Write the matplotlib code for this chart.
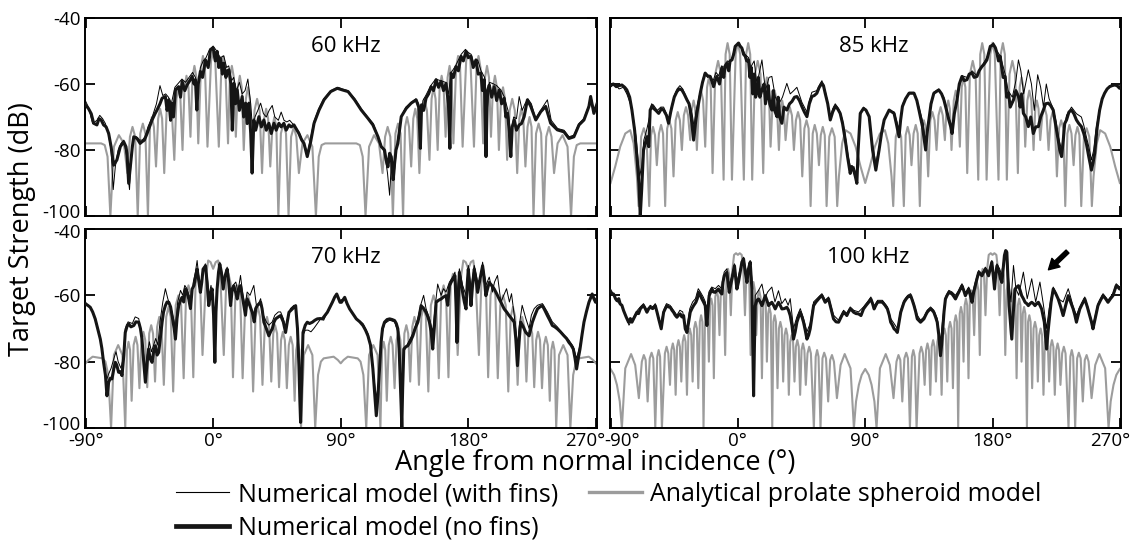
import numpy as np
import matplotlib
matplotlib.use("Agg")
import matplotlib.pyplot as plt
import matplotlib.transforms as mtransforms
from matplotlib.lines import Line2D

plt.rcParams['font.family'] = ['Open Sans', 'DejaVu Sans']

# ---------------- data: (angle deg, TS dB) ----------------
# Numerical model (no fins) -- thick black
nofins_60 = [(-90.2,-66.3),(-88,-67.4),(-86,-69),(-84.3,-71.9),(-82,-72.4),(-80.5,-70.5),(-79,-70.9),(-77.3,-72.4),(-75.5,-73),(-73.7,-75),(-72,-79),(-70.2,-84.6),(-67.9,-83),(-65.5,-79),(-63.1,-77.5),(-61.5,-79),(-60.8,-81),(-59.6,-90.1),(-58.4,-85),(-57,-79),(-56,-76),(-53.7,-76.5),(-51.5,-78),(-50.2,-77.5),(-48.5,-77),(-46.6,-75),(-43.1,-70.9),(-41,-69),(-39.6,-67.9),(-37.5,-66),(-36,-64.3),(-33.7,-63.8),(-32.5,-68),(-31.3,-64.8),(-30,-71),(-29,-65.8),(-28,-70),(-26.6,-61.8),(-24.3,-60.8),(-23,-64),(-21.9,-59.2),(-20,-62),(-18.4,-60.3),(-16.5,-59),(-14.8,-57.7),(-13.5,-60),(-12.5,-58.7),(-11.5,-67.9),(-10.5,-60),(-9,-56.2),(-7.5,-58),(-5.4,-52.7),(-3.5,-55),(-1.9,-49.6),(0,-49.1),(1.5,-53),(2.8,-50.1),(4,-55),(5.2,-52.2),(6.5,-57),(7.5,-53.7),(9,-58),(10,-56),(11.1,-55.7),(12.5,-60),(13.5,-74),(14.6,-59.8),(15.8,-66),(17,-61.8),(18.5,-68),(20.5,-63.8),(21.5,-70),(22.9,-65.8),(24,-72),(25.2,-65.8),(26.5,-75),(27.5,-87),(28.7,-70.9),(30,-74),(32.3,-69.9),(34,-73),(35.8,-70.9),(37.5,-74),(39.3,-71.9),(41,-75),(42.9,-71.9),(44.5,-74),(46.4,-71.9),(48,-73),(49.9,-71.9),(51.5,-74),(53.5,-72.4),(55,-73),(57,-72.4),(60.5,-75),(62.5,-77),(64.1,-78),(66.4,-82),(68.8,-77.5),(71.2,-71.9),(74.7,-67.9),(78.2,-64.8),(82.9,-62.3),(87.6,-61.3),(91.2,-61.8),(95.2,-62.3),(99.8,-64.8),(104.5,-67.9),(109.2,-70.4),(112.7,-72.4),(116.3,-76),(118.6,-79),(120.9,-80),(122,-83),(123.3,-85.1),(124.5,-81),(125.6,-82),(127,-89),(128,-84.1),(129,-80),(130.3,-78),(132.7,-69.9),(136.2,-67.4),(139.7,-65.8),(143.2,-64.8),(145,-67),(146.2,-79.5),(147,-66.3),(148.5,-68),(150.2,-64.3),(152,-63),(153.8,-60.8),(155.5,-62),(157.3,-58.7),(159,-61),(160.8,-59.2),(162.5,-62),(164.3,-59.8),(166,-66),(167,-79.5),(167.8,-56.7),(169.5,-58),(171.3,-54.7),(173,-56),(174.9,-51.6),(176.5,-53),(178.4,-50.1),(180,-52),(181.9,-51.6),(183.5,-55),(185.4,-52.7),(187,-57),(188.9,-56.7),(190,-62),(191.3,-58.7),(192.5,-82),(193.5,-62),(194.8,-60.3),(196.5,-64),(198.3,-60.8),(200,-65),(201.8,-61.8),(203.5,-66),(205.3,-64.3),(206.5,-70),(207.7,-68.9),(209,-75),(210,-82),(211,-73),(212.4,-70.9),(214,-74),(215.9,-72.4),(217.5,-72),(219.4,-69.9),(221.7,-64.8),(224.1,-66.8),(227.6,-70.9),(231.1,-68.4),(234.6,-66.8),(238.1,-71.9),(242.8,-73.9),(247.5,-74.5),(251,-76.5),(254.5,-76),(258.1,-72.4),(261.6,-70.9),(265.1,-66.8),(266.3,-63.8),(268.6,-68.9),(270.8,-66)]

nofins_85 = [(-90.2,-60.3),(-88,-60),(-86,-60.8),(-84,-60.5),(-82,-60.3),(-80,-61),(-78.5,-61.8),(-76.5,-64),(-74.9,-67.9),(-73,-74),(-71.4,-82),(-70,-90),(-69,-100),(-68,-92),(-66.7,-80),(-65.5,-78),(-64.3,-76),(-63,-79),(-62,-67.9),(-60.5,-66.5),(-59.6,-67.4),(-58,-68),(-56,-68.9),(-54,-67.5),(-52.5,-67.9),(-50.5,-69.5),(-49,-71.9),(-47.5,-68.5),(-46.6,-66.8),(-45,-64),(-43.1,-62.3),(-41.5,-61.5),(-39.6,-61.8),(-38,-63),(-36,-64.8),(-34.5,-66),(-33.7,-67.9),(-32.5,-72),(-31.3,-77),(-30,-72),(-29,-68.9),(-27.5,-65),(-26.6,-62.8),(-25,-59.5),(-23.1,-56.7),(-21.5,-57.5),(-19.6,-57.7),(-18.5,-59),(-17.2,-60.8),(-16,-59),(-14.8,-57.7),(-13,-60),(-11.3,-55.2),(-10,-58),(-9,-54.5),(-7.8,-53.7),(-6.5,-56),(-5.5,-53),(-4.2,-52.7),(-3,-51),(-1.9,-48.6),(0.5,-47.6),(1.5,-48.5),(2.8,-49.1),(4,-51),(5.2,-51.6),(6.2,-53),(7.5,-52.7),(8.5,-58),(9.5,-55),(10.5,-63),(11.5,-57),(12.5,-64),(13.4,-62.8),(14.5,-58),(15.5,-64),(17,-61.8),(18.5,-60),(19.5,-66),(20.5,-63.8),(21.5,-60.5),(22.5,-66),(24,-67.9),(25,-62),(26,-68),(27.6,-69.9),(28.5,-64),(29.5,-70),(31.1,-71.9),(32.5,-67),(34.6,-67.9),(36.5,-66),(38.2,-65.3),(40,-64),(41.7,-63.8),(43.5,-65),(45.2,-66.8),(47,-68.5),(48.8,-69.9),(50.5,-66),(52.3,-63.8),(54,-63.5),(55.8,-62.8),(57.5,-61),(59.4,-59.8),(60.5,-60.5),(61.7,-62.8),(63.5,-66),(65.3,-70.9),(67,-68.5),(68.8,-66.8),(70.5,-67.5),(72.3,-68.9),(74,-72),(75.9,-77),(77.5,-82),(79.4,-87.1),(80.5,-85),(81.8,-86.1),(83,-88),(84.1,-90.1),(85,-80),(86.5,-68.9),(88.8,-67.4),(90.5,-67.9),(92.8,-69.9),(95.2,-80),(97.5,-86.1),(99.8,-80),(101.5,-75),(103.4,-70.9),(106.9,-67.9),(110.4,-68.9),(112,-72),(113.9,-76),(115,-71),(116.3,-66.8),(118.5,-64.5),(121,-62.8),(124.5,-62.8),(126.5,-65),(128,-67.9),(130.5,-73),(132.7,-80),(134,-74),(135,-70.9),(136.5,-66),(138.5,-62.8),(142,-61.8),(144,-63),(145.6,-64.8),(147.5,-68),(149.1,-70.9),(150.5,-73),(151.4,-75),(153,-69),(154.9,-64.8),(156.5,-60),(158.4,-57.7),(160,-59),(161.9,-58.7),(163.5,-57),(165.5,-56.7),(167,-58),(169,-57.7),(170.5,-56),(172.5,-54.7),(174,-54),(176,-52.7),(177,-51),(178.4,-48.6),(180.7,-48.1),(182,-49),(183.1,-50.6),(184.2,-53),(185.4,-51.6),(186.5,-55),(187.5,-58),(188.9,-57.7),(190,-64),(191.3,-62.8),(192.5,-67),(194.8,-64.8),(196.5,-62),(198.3,-63.8),(199.5,-67),(200.5,-63),(201.8,-68.9),(203.5,-70),(205.3,-72.9),(207,-70),(208.8,-75),(210.5,-73),(212.4,-72.9),(214,-70),(215.9,-67.9),(217.5,-66),(219.4,-65.8),(221,-66.5),(222.9,-67.9),(224.5,-72),(226.4,-77),(227.5,-80),(228.8,-82),(230,-77),(231,-72),(232.3,-70.9),(234,-68.5),(235.8,-67.9),(237.5,-69),(239.3,-70.9),(241,-72),(242.8,-72.9),(244.5,-75),(246.3,-78),(248,-82),(249.9,-86.1),(251,-84),(252.2,-81),(254,-73),(255.7,-67.9),(257.5,-64.5),(259.2,-62.8),(261,-61.5),(262.8,-60.8),(264.5,-60.5),(266.3,-60.3),(268,-60.5),(269.8,-61.3),(270.8,-60.5)]

nofins_70 = [(-90.2,-62.6),(-88.5,-63),(-86.7,-63.6),(-85,-65),(-83.2,-67.1),(-81.5,-70),(-79.6,-73.2),(-78.5,-76),(-77.3,-80.2),(-76,-84),(-74.9,-90.3),(-73.7,-86.2),(-72.5,-85),(-71.4,-85.2),(-70,-82),(-69,-80.2),(-68,-81),(-66.7,-83.2),(-65.5,-83),(-64.3,-84.2),(-63,-78),(-62,-71.2),(-60.5,-69),(-59.6,-68.6),(-58,-69.5),(-56,-69.1),(-54.5,-68),(-52.5,-68.1),(-51.3,-70),(-50.2,-73.2),(-49,-80),(-47.8,-86.2),(-46.5,-80),(-45.5,-76.2),(-44.5,-79),(-43.1,-80.2),(-42,-77),(-40.8,-75.2),(-39.5,-78),(-38.4,-77.2),(-37,-72),(-36,-68.1),(-35,-65),(-33.7,-63.1),(-32.5,-62),(-31.3,-62.1),(-30,-63.5),(-29,-66.1),(-27.5,-70),(-26.6,-73.2),(-25.5,-67),(-24.3,-63.1),(-23,-61.5),(-21.9,-60.6),(-20.8,-62),(-19.6,-58.1),(-18.5,-59),(-17.2,-61.1),(-16,-64),(-14.8,-58.1),(-13.5,-57),(-12.5,-54.6),(-11.3,-52.1),(-10,-56),(-9,-59.1),(-8,-56),(-7.1,-52.1),(-5.4,-51.1),(-4.3,-56),(-3.1,-63.1),(-2,-60),(-0.7,-58.1),(0.3,-66),(1.2,-80.2),(2,-65),(2.8,-58.1),(3.8,-53),(4.7,-50.6),(5.8,-53),(7.1,-58.1),(8.5,-54),(9.9,-52.1),(11,-56),(12.3,-63.1),(13.5,-58),(14.6,-57.1),(15.8,-59),(17,-61.1),(18.2,-58),(19.3,-57.1),(20.5,-60),(21.7,-63.1),(22.8,-66),(24,-61.1),(25.8,-63),(27.6,-65.1),(29,-68),(30,-64),(31.1,-63.1),(33.5,-62.1),(34.5,-64),(35.8,-68.1),(37.5,-70),(39.3,-72.2),(40.5,-71),(41.7,-70.1),(43,-68),(44.1,-67.1),(46,-66.5),(47.6,-66.1),(49.5,-68),(51.1,-71.2),(52.3,-68),(53.5,-65.1),(55.8,-64.1),(58.2,-63.1),(59.5,-70),(60.5,-81.2),(61.2,-92),(61.7,-98.3),(62.3,-88),(63.4,-71.2),(65,-69),(66.4,-68.1),(68,-68.5),(70,-68.1),(71.8,-67.5),(73.5,-67.1),(75.5,-67),(77,-67.1),(79,-66),(80.6,-65.1),(82.5,-63.5),(84.1,-62.1),(85.8,-60.5),(87.2,-59.6),(88.5,-61),(89.5,-62.1),(90.5,-62.1),(92.8,-60.6),(94.5,-62.5),(96.3,-64.1),(98.5,-65.5),(101,-67.1),(103.5,-68),(105.7,-69.1),(107.5,-70.5),(109.2,-72.2),(111,-75),(112.7,-82.2),(114,-90),(115.1,-96.3),(116.3,-90),(117.4,-82.2),(118.5,-74),(119.5,-70),(120.9,-68.1),(122.7,-67.3),(124.5,-67.1),(126.3,-67.3),(128,-67.6),(129.2,-68.5),(130.3,-70.1),(131.2,-76),(132,-85.2),(132.6,-93),(133.1,-99.8),(133.7,-88),(134.5,-76.2),(136,-75.5),(137.3,-75.2),(139,-74),(140.9,-72.2),(142.5,-70),(144.4,-68.1),(145.5,-66),(146.7,-63.1),(148.5,-64),(150.2,-65.1),(151.5,-66.5),(152.6,-68.1),(153.8,-71),(154.9,-76.2),(156,-70),(157.3,-62.1),(159,-61.5),(160.8,-61.1),(162.5,-60.5),(164.3,-60.1),(165.5,-63),(166.7,-57.1),(168,-56),(169,-55.1),(170.6,-54.1),(171.3,-62),(172,-74.2),(172.8,-63),(173.7,-53.1),(174.8,-56),(176,-59.1),(177.2,-62),(178.4,-64.1),(179.2,-57),(180,-52.1),(181,-57),(181.9,-63.1),(183,-57),(184.2,-52.1),(185.4,-55),(186.6,-59.1),(188.3,-55),(190.1,-51.1),(191.3,-55),(192.4,-60.1),(193.6,-58),(194.8,-56.1),(196.5,-57),(198.3,-58.1),(200,-59.5),(201.8,-61.1),(203.5,-62.5),(205.3,-64.1),(207,-65),(208.8,-66.1),(210.5,-67),(212.4,-68.1),(213.5,-73),(214.7,-81.2),(215.8,-74),(217,-68.1),(218.8,-69.5),(220.6,-71.2),(222.9,-72.2),(225.2,-68.1),(227,-66),(228.8,-64.1),(230.5,-63.5),(232.3,-63.1),(234,-64.5),(235.8,-66.1),(237.5,-67.5),(239.3,-69.1),(241,-69.5),(242.8,-70.1),(245,-71),(247.5,-72.2),(249.3,-73),(251,-74.2),(252.5,-75),(254.1,-76.2),(255.3,-79),(256.4,-82.2),(257.6,-79),(258.8,-76.2),(260.2,-72),(261.6,-68.1),(263.3,-65),(265.1,-62.1),(267.4,-59.6),(268.6,-61),(269.8,-62.1),(270.8,-61)]

nofins_100 = [(-90.2,-58.6),(-89,-59.5),(-87.9,-59.6),(-86.5,-61),(-85.5,-61.6),(-84.2,-61),(-83.2,-62.6),(-82,-63),(-80.8,-64.6),(-79,-66.5),(-77.3,-68.1),(-76,-67),(-74.9,-68.1),(-73,-66.5),(-71.4,-65.1),(-70.2,-65.5),(-69,-64.1),(-67.8,-63.5),(-66.7,-63.1),(-65.5,-64),(-64.3,-65.1),(-63,-64),(-62,-63.6),(-60.2,-64),(-58.4,-63.1),(-57.2,-65),(-56,-67.1),(-54.2,-70.1),(-52.5,-65.1),(-51.3,-64),(-50.2,-63.1),(-49,-63.5),(-47.8,-63.6),(-46.6,-64.5),(-45.5,-65.1),(-44.3,-66),(-43.1,-66.6),(-42,-66),(-40.8,-65.6),(-39.6,-66.5),(-38.4,-66.1),(-37.2,-70.1),(-36,-71.2),(-34.8,-68),(-33.7,-65.1),(-32.5,-64),(-31.3,-63.1),(-29.7,-62.1),(-28.7,-61),(-27.8,-59.1),(-26.6,-60),(-25.4,-61.1),(-24.3,-62),(-23.1,-63.1),(-22.5,-66),(-21.9,-69.1),(-21.1,-64),(-20.3,-60.1),(-18.4,-58.1),(-17.2,-59),(-16,-59.1),(-14.8,-58.5),(-13.7,-58.1),(-12.5,-59),(-11.3,-59.6),(-10.5,-56),(-9.7,-54.1),(-7.8,-53.1),(-7,-56),(-6.1,-59.1),(-5.2,-57),(-4.2,-55.1),(-3.3,-53),(-2.4,-51.1),(-1.5,-55),(-0.7,-58.1),(0.4,-56),(1.6,-53.1),(2.8,-50),(4,-49),(5.2,-53),(6.4,-56.1),(7.5,-52),(8.7,-50),(9.3,-54),(9.9,-58.1),(10.5,-75),(11.1,-90.3),(11.7,-75),(12.3,-63.1),(13.4,-61.5),(14.6,-61.1),(15.8,-62),(17,-63.1),(18.2,-61.5),(19.3,-60.1),(20.5,-61.5),(21.7,-63.1),(22.9,-62.5),(24,-62.1),(25.2,-63),(26.4,-64.1),(27.6,-63),(28.7,-62.1),(29.9,-63),(31.1,-64.1),(32.8,-64),(34.6,-63.6),(35.8,-64.5),(37,-66.1),(38.2,-69),(39.3,-73.2),(40.5,-71),(41.7,-68.1),(42.9,-66.5),(44.1,-65.1),(45.3,-66.5),(46.4,-68.1),(47.6,-70.5),(48.8,-73.2),(50,-72),(51.1,-70.1),(52.3,-66.5),(53.5,-63.1),(55.2,-62),(57,-61.1),(58.2,-60.5),(59.4,-60.1),(60.5,-61),(61.7,-62.1),(62.9,-61.5),(64.1,-61.1),(65.8,-64),(67.6,-67.1),(69.4,-68),(71.2,-68.1),(73,-66.5),(74.7,-65.1),(75.9,-65.5),(77,-66.1),(78.2,-65),(79.4,-64.1),(80.6,-64.5),(81.8,-65.1),(83.5,-65.5),(85.3,-65.6),(87,-66.1),(88.8,-64.1),(90.5,-63.1),(92.4,-62.1),(94,-61.1),(95.2,-62.5),(96.3,-64.1),(97.5,-63),(98.7,-62.1),(100.5,-62),(102.2,-62.1),(104,-63),(105.7,-64.1),(107,-66),(108,-68.1),(109.2,-69),(110.4,-70.1),(111.5,-70.5),(112.7,-71.2),(114,-68),(115.1,-65.1),(116.3,-63.5),(117.4,-62.1),(118.6,-61.3),(119.8,-60.6),(121,-60.3),(122.1,-60.1),(123.3,-61.5),(124.5,-63.1),(125.7,-65),(126.8,-67.1),(128,-67.6),(129.1,-68.1),(130.3,-67.6),(131.5,-67.1),(132.7,-66),(133.8,-65.1),(135,-64.5),(136.2,-64.1),(137.3,-64.5),(138.5,-65.1),(139.7,-66.5),(140.9,-68.1),(142,-72),(143.2,-78.2),(144,-75),(144.8,-70.1),(145.7,-65),(146.7,-61.1),(147.9,-60),(149.1,-59.1),(150.3,-59.3),(151.4,-59.6),(152.6,-60.3),(153.8,-61.1),(155,-60),(156.1,-59.1),(157.3,-58),(158.4,-57.1),(159.6,-58.5),(160.8,-60.1),(162,-59),(163.1,-58.1),(164.3,-60),(165.5,-62.1),(166.7,-59),(167.8,-57.1),(169,-55),(170.2,-53.1),(171.3,-53.5),(172.5,-54.1),(173.7,-53),(174.9,-52.1),(176,-53),(177.2,-54.1),(178.4,-52),(179.5,-50),(180.5,-54),(181.4,-58.1),(182.2,-54),(183.1,-51.1),(184.7,-53.1),(185.6,-55),(186.6,-56.1),(187.5,-52),(188.4,-48),(189.3,-46.5),(190.1,-47),(190.9,-55),(191.7,-63.1),(192.6,-68),(193.6,-73.2),(194.7,-65),(195.9,-58.1),(197.1,-57.5),(198.3,-57.1),(199.5,-58.5),(200.6,-60.1),(201.8,-61),(203,-62.1),(204.2,-62.5),(205.3,-63.1),(206.5,-62.5),(207.7,-62.1),(208.9,-62.5),(210,-63.1),(211.2,-62.5),(212.4,-62.1),(213.5,-63),(214.7,-64.1),(215.6,-66),(216.6,-68.1),(217.4,-72),(218.2,-76.2),(219,-72),(219.9,-68.1),(221.4,-62),(222.9,-58.1),(224.7,-59.5),(226.4,-61.1),(228.2,-63.5),(229.9,-66.1),(231.7,-63),(233.5,-60.1),(235.2,-62),(237,-64.1),(238.2,-66),(239.3,-68.1),(240.5,-66),(241.7,-64.1),(243.5,-62.5),(245.2,-61.1),(247,-63.5),(248.7,-66.1),(249.9,-68),(251,-70.1),(252.8,-66.5),(254.5,-63.1),(256.3,-61.5),(258.1,-60.1),(259.9,-61),(261.6,-62.1),(263.4,-61),(265.1,-60.1),(266.3,-58.5),(267.4,-57.1),(268.6,-57.5),(269.8,-58.1),(270.8,-57.5)]

# Numerical model (with fins) -- thin black
fins_60 = [(-90.2,-65),(-88,-67),(-85,-72),(-82,-71),(-80,-69.5),(-78,-70.5),(-76,-72),(-74,-75),(-72,-80),(-70.5,-92),(-69,-85),(-67,-80),(-65,-78),(-63,-77),(-61,-82),(-60,-88),(-59,-92),(-58,-84),(-56,-76),(-54,-76),(-52,-77),(-50,-77),(-48,-76),(-46,-73),(-43,-70),(-40,-66),(-37.5,-60.5),(-35.5,-63.5),(-33.5,-63),(-31.5,-64),(-29.5,-66),(-27,-61),(-25,-60),(-22,-58.5),(-19.5,-59.5),(-17,-58),(-14.5,-56.5),(-12.5,-58),(-11,-62),(-9,-55),(-7,-53),(-5,-52),(-2.5,-49.5),(0,-48.5),(2.5,-50),(5,-52),(7.5,-51.5),(9.5,-55),(11,-54.5),(13,-59),(14.5,-58),(16.5,-62),(18.5,-59.5),(20.5,-63),(22.5,-62),(24.5,-58.5),(26.5,-66),(28,-75),(29.5,-70),(31.5,-68),(33.5,-65.8),(35.5,-69),(37.5,-70),(39.5,-68),(41.7,-66.5),(43.5,-70),(46,-71),(48,-68.5),(50,-71),(52,-71.5),(54,-71),(56,-72),(58,-73),(60.5,-74.5),(63,-77),(65,-79),(66.5,-81),(68.5,-77),(71,-71.5),(74.5,-67.5),(78,-64.5),(83,-62),(88,-61),(91,-61.5),(95,-62),(100,-64.5),(104.5,-67.5),(109,-70),(113,-72),(116,-75.5),(119,-79),(121,-81),(123,-87),(124.5,-93.7),(126,-82),(128,-86),(130,-77),(133,-69.5),(136,-67),(140,-65.5),(143,-64.5),(145,-66),(146.5,-72),(148,-65),(150,-63.5),(153.5,-60.5),(157,-58.5),(160.5,-59),(164,-59.5),(166,-63),(168,-56.5),(171,-54.5),(175,-51),(178,-49.5),(180,-50.5),(182,-51),(184,-54),(186.6,-52.7),(189,-56),(191.5,-58),(193,-70),(195,-59.5),(198,-60),(200,-60.5),(203,-61.8),(205.5,-64),(208,-68),(210,-75),(212,-70),(214,-70.5),(215.9,-63.8),(218,-68),(220,-66),(222,-64.5),(224.5,-66),(227.5,-70.5),(231,-68),(235.8,-64.8),(238.5,-71),(243,-73.5),(247.5,-74),(251,-76),(254.5,-75.5),(258,-72),(261.5,-70.5),(265,-66.5),(266.5,-63.5),(268.5,-68),(270.8,-66)]

fins_85 = [(-90.2,-61),(-87,-60),(-84,-61.5),(-81,-61),(-78.5,-63),(-76,-66),(-74,-70),(-72,-76),(-70.5,-83),(-69.5,-88),(-68,-85),(-66.5,-77),(-64.5,-74),(-62.5,-70),(-61,-66),(-59.5,-66.5),(-57,-68),(-54.5,-67),(-52.5,-67),(-50.5,-69),(-49,-71),(-47,-67),(-45,-63.5),(-43,-61.5),(-41,-60.5),(-39,-61.5),(-37,-63.5),(-35,-65.5),(-33.5,-67),(-32,-70),(-31,-73),(-29.5,-68),(-27.5,-64),(-25.5,-60),(-23.5,-56.5),(-21.5,-58),(-19.5,-57.5),(-17.5,-59),(-15.5,-56.5),(-13.5,-57.5),(-11.5,-54.5),(-9.5,-55),(-7.5,-53),(-5.5,-53.5),(-4,-52),(-2,-48.5),(0.5,-47.5),(3,-49),(5,-51),(7.5,-52),(9,-55),(11.5,-53),(13.5,-60),(17,-52.7),(19.5,-62),(22,-58),(24,-57.7),(26.5,-64),(29,-66),(31.5,-64),(34.6,-59.8),(37,-63),(39.5,-62),(41.7,-61),(44,-64),(45.2,-65.5),(47,-67),(48.8,-68.5),(50.5,-65),(52.3,-62.5),(55.8,-62),(58,-60),(59.4,-59),(61.7,-62),(63.5,-65.5),(65.3,-70),(67,-67.5),(68.8,-66),(70.5,-67),(72.3,-68.5),(74,-71),(76,-76),(78,-82),(80,-86),(82,-85),(84,-88),(85,-80),(86.5,-69.5),(88.8,-67),(91,-68),(93,-70.5),(95,-78),(97.5,-84),(100,-79),(103.5,-70.5),(107,-68),(110.5,-68.5),(114,-74),(116.5,-66),(121,-62.5),(124.5,-62.5),(128,-67),(131,-72),(132.7,-78),(135,-70),(138.5,-62.5),(142,-61.5),(145.6,-64),(149,-70),(151.5,-73),(154.9,-64),(158.4,-57.5),(162,-58),(165.5,-56),(169,-57.5),(172.5,-54.5),(176,-52),(178.4,-48.5),(180.7,-47.5),(183,-50),(185.5,-51.5),(188.9,-57),(191,-62),(194,-64),(196.5,-59),(198.3,-52.7),(200,-56),(202,-63),(205.3,-55.7),(207.5,-60),(209.5,-68),(211.9,-57.2),(214,-61),(216,-67),(218,-60),(220,-64.5),(222.9,-67.5),(225,-71.5),(226.5,-76),(228.8,-80),(230.5,-74),(232.3,-69.5),(235.8,-67),(239.3,-69),(242.8,-70),(244.5,-72.5),(246.3,-76),(248,-79),(249.9,-83),(251.5,-80),(253,-74),(255.7,-67.5),(259.2,-62.5),(262.8,-60.5),(266.3,-60),(269.8,-61),(270.8,-60.5)]

fins_70 = [(-90.2,-62),(-87,-63.5),(-83,-67),(-80,-72),(-78,-77),(-76.5,-82),(-75.5,-86),(-74,-84),(-72,-82),(-70,-79),(-68.5,-77),(-67,-80),(-65,-82),(-63.5,-79),(-62,-70),(-60,-68),(-57,-68.5),(-55,-66.5),(-52.5,-67),(-50.5,-72),(-49,-78),(-48,-83),(-46.5,-78),(-45,-74),(-43.5,-77),(-42,-75),(-40.5,-73),(-39,-75),(-37.5,-68),(-35.5,-62),(-33.7,-58),(-32,-61),(-30.5,-63),(-29,-65),(-27.5,-68),(-26.6,-70),(-25,-62),(-23,-58.5),(-21.5,-60),(-20,-57),(-18.5,-58),(-17,-60),(-15.5,-61),(-14,-56),(-12.5,-53),(-11.3,-49.5),(-10,-55),(-9,-58),(-7.5,-53),(-5.5,-50.5),(-4,-55),(-3,-60),(-1.5,-57),(-0.5,-60),(1,-72),(2.5,-59),(4.7,-50),(6.5,-55),(8,-56),(9.9,-51.5),(11.5,-57),(12.5,-61),(14,-57),(16,-56),(17.5,-59),(19.3,-54),(21,-60),(22.5,-63),(24,-59),(26,-60),(28.7,-57),(30.5,-63),(32,-62.5),(33.5,-61),(35.5,-66),(37.5,-68),(39.3,-69),(41.7,-68),(43.5,-66),(46,-65),(47.6,-65),(49.5,-67),(51,-70),(52.5,-67),(54.5,-64),(57,-63),(58.5,-64),(59.5,-72),(60.5,-82),(61.3,-88),(62.3,-82),(63.5,-72),(65,-70.5),(67,-70.5),(69,-71),(71,-70),(73.5,-68.5),(76,-67),(78,-67.5),(80.6,-65),(84,-62),(87,-59.5),(89.5,-61.5),(92.8,-61),(96.3,-64),(101,-67),(105.7,-68.5),(109.2,-71.5),(111.5,-76),(113,-83),(115,-91),(116.5,-87),(118,-78),(119.5,-71),(121,-68.5),(124.5,-67.5),(128,-68),(130.3,-71),(131.5,-80),(132.5,-90),(133.5,-86),(134.5,-77),(137.3,-74.5),(140.9,-71.5),(144.4,-67),(146.7,-62.5),(148.5,-60),(150.2,-64),(152.6,-67),(154.9,-71),(156.5,-64),(158.4,-56.6),(160.8,-60),(162.5,-58),(164.3,-59),(166.7,-56),(169,-54.5),(170.6,-53),(172,-60),(173.7,-52),(176,-57),(178.4,-60),(180,-51),(181.9,-58),(184.2,-51),(186.6,-56),(188.5,-55),(190.1,-50),(192.4,-57),(194.8,-54.5),(197,-59),(198.5,-56),(200.6,-54),(203,-62),(205,-60),(207,-58),(209,-62),(210.5,-59.5),(212.4,-66),(214.7,-75),(216,-69),(218,-63),(220.6,-67),(222.9,-70),(224.5,-66),(226.5,-64),(228.8,-63),(232.3,-62.5),(235.8,-65),(239.3,-68),(242.8,-69.5),(247.5,-72),(251,-73.5),(254.1,-75.5),(256.4,-79),(258.8,-75),(261.6,-68),(265.1,-62),(267.4,-59.5),(269.8,-61.5),(270.8,-61)]

fins_100 = [(-90.2,-59),(-87.5,-60),(-85,-62),(-82.5,-63),(-80.5,-65),(-78.5,-67),(-77,-69),(-75,-67.5),(-73,-66),(-71,-64.5),(-69,-63.5),(-66.7,-62.5),(-64.3,-64.5),(-62,-63),(-60,-63.5),(-58.4,-62.5),(-56.5,-66),(-54.5,-68.5),(-52.5,-64.5),(-50.5,-62.5),(-48,-63),(-45.5,-64.5),(-43.1,-66),(-41,-64.5),(-39,-65),(-37.5,-68.5),(-36,-70),(-34,-64),(-32,-62),(-30,-61),(-28,-58),(-26.5,-59),(-24.5,-60.5),(-23,-62),(-21.9,-66),(-20.5,-59),(-18.5,-57.5),(-16,-58),(-13.7,-57),(-11.5,-58),(-9.7,-53),(-7.8,-52),(-6.1,-57),(-4.2,-54),(-2.4,-50.5),(-0.7,-56),(1.6,-52),(4,-48.5),(6.4,-54),(8.7,-49.5),(9.9,-55),(10.7,-65),(11.4,-68),(12.3,-60),(14.6,-58.5),(17,-56.6),(19,-61),(21,-59),(24,-57.5),(26.2,-62),(28.7,-58.6),(31,-62.5),(33.5,-61),(35.5,-63),(37,-61),(39.3,-70),(41.7,-66.5),(44.1,-64),(46.4,-67),(48.8,-71),(51.1,-68.5),(53.5,-62),(57,-60.5),(59.4,-59.5),(61.7,-61.5),(64.1,-60.5),(67.6,-66),(71.2,-67.5),(74.7,-64.5),(77,-65.5),(79.4,-63.5),(81.8,-64.5),(85.3,-65),(88.8,-63.5),(92.4,-61.5),(94,-60.5),(96.3,-63.5),(98.7,-61.5),(102.2,-61.5),(105.7,-63.5),(108,-67),(110.4,-68.5),(112.7,-70),(115.1,-64.5),(117.4,-61.5),(120,-60),(122.1,-59.5),(124.5,-62.5),(126.8,-66),(129.1,-67.5),(131.5,-66.5),(133.8,-64.5),(136.2,-63.5),(138.5,-64.5),(140.9,-67),(143.2,-74),(144.8,-67),(146.7,-60.5),(149.1,-58.5),(151.4,-59),(153.8,-60),(156.1,-58.5),(158.4,-56.5),(160.8,-59.5),(163.1,-57.5),(165.5,-60),(167.8,-56),(170.2,-52.5),(172.5,-53.5),(174.9,-51.5),(177.2,-53),(179.5,-49.5),(181.4,-55),(183.1,-50.5),(185,-52),(186.6,-54),(188.4,-47.5),(190.1,-46.5),(191.5,-56),(193,-62),(194.8,-51),(196.5,-58),(198.5,-60),(201.8,-53),(204.5,-61),(207.7,-55),(210.5,-62),(213.5,-56),(216,-63),(218.2,-70),(220,-64),(222.9,-57.5),(224.5,-59),(226.4,-61),(229.9,-62),(233.5,-58),(235.5,-61),(237,-63.5),(239.3,-66),(241.7,-63.5),(245.2,-60.5),(248.7,-65.5),(251,-69),(254.5,-62.5),(258.1,-59.5),(261.6,-61.5),(265.1,-59.5),(267.4,-56.5),(269.8,-57.5),(270.8,-57)]

# Analytical prolate spheroid model -- grey; read for 0..90 deg
# (the analytical pattern is mirror-symmetric about 0 and 90 deg)
spheroid_60 = [(0,-50.5),(1.5,-53),(4,-79),(5.8,-55),(7.2,-51.5),(8.6,-55),(10.5,-78),(11.8,-58),(13.2,-54.5),(14.6,-58),(16,-76),(17.4,-61),(18.8,-57.5),(20.2,-61),(21.6,-80),(23.1,-64.5),(24.5,-61),(25.9,-64.5),(27.4,-83),(29.2,-68),(31,-64.5),(32.8,-68),(34.5,-87),(36,-70.5),(37.4,-67.5),(38.8,-70.5),(40.3,-85),(41.8,-73),(43.2,-70),(44.6,-73),(46,-100),(47.8,-75),(49.6,-72),(51.4,-75),(53.2,-100),(55,-76),(56.9,-73),(58.7,-76),(60.5,-87),(63,-78),(66.5,-75.5),(70,-79),(72.5,-100),(74.5,-82),(76.5,-78.5),(79,-78),(84,-78),(90,-78)]

spheroid_85 = [(0,-47.5),(1.6,-51),(4.2,-89),(5.8,-51),(7.3,-47.6),(8.7,-51),(10.1,-89),(12,-57),(14,-53),(16,-57),(17.9,-87),(19.2,-61),(20.5,-58),(21.8,-61),(23.1,-79),(24.6,-65),(26,-62),(27.4,-65),(29,-80),(30.2,-67.5),(31.3,-65),(32.5,-67.5),(33.7,-77),(35.2,-69.5),(36.7,-67),(38.2,-69.5),(39.6,-80),(41,-71),(42.5,-68.5),(44,-71),(45.5,-88),(47,-73.5),(48.5,-71),(50,-73.5),(51.4,-97),(52.9,-75),(54.3,-72.4),(55.8,-75),(57.3,-84.6),(58.6,-75.5),(60,-73),(61.4,-75.5),(62.7,-97),(64.6,-76),(66.5,-73.4),(68.4,-76),(70.2,-97),(71.4,-88),(73.7,-78),(76.1,-74),(79.6,-75),(83.2,-79),(86.7,-85),(90,-90)]

spheroid_70 = [(0,-52),(1.8,-50),(3.5,-49.5),(5,-54),(7.5,-78),(9.2,-56.5),(10.8,-53.5),(12.4,-56.5),(14,-84.7),(15.7,-60),(17.4,-57),(19.1,-60),(20.8,-85),(22.6,-63),(24.5,-60),(26.4,-63),(28.2,-89),(29.9,-66.5),(31.5,-63.5),(33.1,-66.5),(34.8,-87),(36.4,-69.5),(38,-66.5),(39.5,-69.5),(41,-86),(42.4,-71.5),(43.7,-69),(45.1,-71.5),(46.5,-87.7),(47.9,-73.5),(49.2,-71),(50.6,-73.5),(52,-88),(53.4,-75),(54.7,-72.5),(56.1,-75),(57.5,-91.8),(58.6,-76.5),(59.7,-74),(60.8,-76.5),(62,-100),(64,-78),(67,-75),(70,-78),(72,-100),(74,-84),(76,-80),(78,-79),(81,-78.8),(85,-78.5),(88,-79.5),(90,-80.5)]

spheroid_100 = [(0,-47.8),(1.3,-47.3),(2.7,-47.8),(3.8,-52),(5,-66),(6,-54),(7,-52),(8,-54),(9,-78),(10,-58.5),(11,-56),(12,-58.5),(13,-72),(14,-60.5),(15,-58.5),(16,-60.5),(17,-85),(17.9,-63),(18.8,-61),(19.7,-63),(20.5,-80),(21.4,-65.5),(22.3,-63.5),(23.2,-65.5),(24.3,-100),(25.1,-68),(26,-66),(26.9,-68),(28,-88),(29,-70),(30,-68),(31,-70),(32,-86),(33,-72),(34,-70),(35,-72),(36,-90),(37,-74),(38,-72),(39,-74),(40,-86),(41,-75.5),(42,-73.5),(43,-75.5),(44,-90),(45,-76.5),(46,-74.5),(47,-76.5),(48,-87),(49.2,-77.5),(50.4,-75.5),(51.6,-77.5),(53.7,-100),(55,-78.5),(56,-76.5),(57,-78.5),(58.4,-100),(59.8,-79),(61,-77.3),(62.3,-79),(63.8,-92),(65.2,-79.5),(66.5,-78),(67.9,-80),(70,-91),(72.6,-81),(75.5,-77.7),(79.6,-82),(82,-100),(83.5,-92),(85.5,-87),(87.5,-84),(90,-82.2)]

panel_labels = ["60 kHz", "85 kHz", "70 kHz", "100 kHz"]
x_ticks = [-90, 0, 90, 180, 270]
x_ticklabels = ["-90°", "0°", "90°", "180°", "270°"]
y_ticks = [-40, -60, -80, -100]
y_ticklabels = ["-40", "-60", "-80", "-100"]
legend_labels = ["Numerical model (with fins)", "Numerical model (no fins)",
                 "Analytical prolate spheroid model"]


def xy(points):
    a = np.asarray(points, dtype=float)
    return a[:, 0], a[:, 1]


def full_spheroid(half):
    ang, ts = xy(half)
    A = np.concatenate([-ang[::-1], ang[1:], 180 - ang[::-1][1:], 180 + ang[1:]])
    T = np.concatenate([ts[::-1], ts[1:], ts[::-1][1:], ts[1:]])
    return A, T


GREY = "#9c9c9c"
BLACK = "#151515"

fig = plt.figure(figsize=(11.32, 5.58), dpi=100)
W, H = 1132.0, 558.0
boxes = [
    (85, 18, 597, 216),     # 60 kHz
    (610, 18, 1121, 216),   # 85 kHz
    (85, 229, 597, 428),    # 70 kHz
    (610, 229, 1121, 428),  # 100 kHz
]
panels = [
    (nofins_60, fins_60, spheroid_60),
    (nofins_85, fins_85, spheroid_85),
    (nofins_70, fins_70, spheroid_70),
    (nofins_100, fins_100, spheroid_100),
]
label_x = [118.3, 120.9, 118.3, 120.9]


def shift(label, dx, dy):
    label.set_transform(label.get_transform() +
                        mtransforms.ScaledTranslation(dx / 100.0, dy / 100.0, fig.dpi_scale_trans))


axes = []
for i, ((x0, y0, x1, y1), (nf, wf, sph)) in enumerate(zip(boxes, panels)):
    ax = fig.add_axes([x0 / W, 1 - y1 / H, (x1 - x0) / W, (y1 - y0) / H])
    axes.append(ax)
    a, t = full_spheroid(sph)
    ax.plot(a, t, color=GREY, lw=1.5, solid_joinstyle='round', zorder=2)
    a, t = xy(wf)
    ax.plot(a, t, color='black', lw=0.7, zorder=3)
    a, t = xy(nf)
    ax.plot(a, t, color=BLACK, lw=2.2, solid_joinstyle='round', zorder=4)

    ax.set_xlim(-90.4, 270.8)
    ax.set_ylim(-100, -40)
    ax.set_xticks(x_ticks)
    ax.set_yticks(y_ticks)
    ax.tick_params(direction='in', top=True, right=True, length=7, width=1.3,
                   labelsize=13.5, pad=3)
    if i >= 2:
        ax.set_xticklabels(x_ticklabels)
    else:
        ax.set_xticklabels([])
    if i % 2 == 0:
        ax.set_yticklabels(y_ticklabels)
    else:
        ax.set_yticklabels([])
    for s in ax.spines.values():
        s.set_linewidth(1.4)
    ax.text(label_x[i], -50.2, panel_labels[i], ha='right', va='baseline', fontsize=16)

    xt = ax.xaxis.get_major_ticks()
    yt = ax.yaxis.get_major_ticks()
    if i == 2:
        shift(xt[4].label1, -11, 0)
    if i == 3:
        shift(xt[0].label1, 11, 0)
        shift(xt[4].label1, -10, 0)
    if i % 2 == 0:
        shift(yt[3].label1, 0, 5)
        if i == 2:
            shift(yt[0].label1, 0, -2)

# arrow in the 100 kHz panel
axes[3].annotate('', xy=(219.5, -52.3), xytext=(233, -46.8),
                 arrowprops=dict(arrowstyle='simple,head_length=0.75,head_width=0.85,tail_width=0.3',
                                 color='black', shrinkA=0, shrinkB=0),
                 zorder=6)

fig.text(22 / W, 1 - 229 / H, "Target Strength (dB)", rotation=90,
         ha='center', va='center', fontsize=19.5)
fig.text(595 / W, 1 - 463 / H, "Angle from normal incidence (°)",
         ha='center', va='center', fontsize=19.5)

handles = [Line2D([], [], color='black', lw=0.8),
           Line2D([], [], color=BLACK, lw=3.4),
           Line2D([], [], color=GREY, lw=2.4)]
fig.legend(handles, legend_labels, ncol=2, loc='upper left',
           bbox_to_anchor=(176 / W, 1 - 482 / H), frameon=False,
           fontsize=18, handlelength=2.1, handletextpad=0.36,
           columnspacing=1.25, labelspacing=0.35, borderpad=0, borderaxespad=0)

fig.savefig("out.png", dpi=100)
